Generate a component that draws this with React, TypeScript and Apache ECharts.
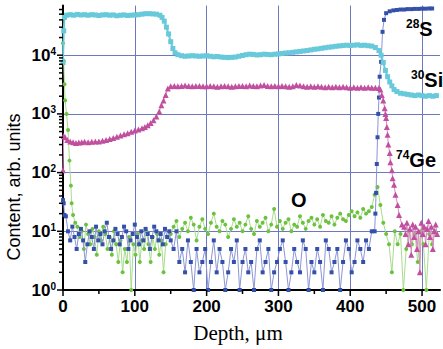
import React, { useEffect, useRef } from 'react';
import * as echarts from 'echarts';

// ---- axis ticks ----
const xTicksMajor = [0, 100, 200, 300, 400, 500];
const xTicksMinor = [50, 150, 250, 350, 450];
const yTicksMajor = [1, 10, 100, 1000, 10000];
const yTicksMinor = [
  2, 3, 4, 5, 6, 7, 8, 9,
  20, 30, 40, 50, 60, 70, 80, 90,
  200, 300, 400, 500, 600, 700, 800, 900,
  2000, 3000, 4000, 5000, 6000, 7000, 8000, 9000,
  20000, 30000, 40000, 50000, 60000,
];

// ---- 30Si (cyan) [depth, counts] ----
const si30: [number, number][] = [
  [0, 7500], [1, 26000], [2, 44000], [5, 48000], [10, 49000], [15, 48000], [20, 49500], [25, 48500],
  [30, 49000], [35, 48000], [40, 49000], [45, 48500], [50, 47500], [55, 48500], [60, 49000], [65, 48000],
  [70, 48500], [75, 47000], [80, 48000], [85, 48500], [90, 47500], [95, 48000], [100, 48500], [105, 49000],
  [110, 50000], [115, 51000], [120, 51000], [125, 50500], [130, 50000], [135, 48000], [138, 44000],
  [141, 38000], [144, 30000], [147, 23000], [150, 17000], [153, 13000], [156, 11000], [160, 10200],
  [165, 9800], [170, 9600], [175, 9700], [180, 9800], [185, 9700], [190, 9600], [195, 9700], [200, 9800],
  [205, 9600], [210, 9400], [215, 9500], [220, 9300], [225, 9200], [230, 9100], [235, 9200], [240, 9300],
  [245, 9600], [250, 9900], [255, 10200], [260, 10400], [265, 10300], [270, 10100], [275, 10200],
  [280, 10400], [285, 10300], [290, 10200], [295, 10400], [300, 10500], [305, 10700], [310, 10900],
  [315, 11000], [320, 11200], [325, 11400], [330, 11600], [335, 11800], [340, 12000], [345, 12300],
  [350, 12600], [355, 12800], [360, 13100], [365, 13400], [370, 13700], [375, 13900], [380, 14200],
  [385, 14400], [390, 14600], [395, 14800], [400, 14600], [405, 14800], [410, 15000], [415, 14700],
  [420, 14800], [425, 14500], [430, 14300], [435, 13500], [440, 12000], [443, 10000], [446, 7500],
  [449, 5500], [452, 4300], [455, 3500], [458, 3000], [461, 2600], [465, 2400], [470, 2250], [475, 2200],
  [480, 2150], [485, 2100], [490, 2050], [495, 2100], [500, 2050], [505, 2000], [510, 2050], [515, 2000],
  [520, 2050],
];

// ---- 74Ge (magenta) ----
const ge74: [number, number][] = [
  [0, 110], [1, 420], [3, 400], [6, 360], [10, 340], [14, 330], [18, 320], [22, 325], [26, 330], [30, 335],
  [35, 330], [40, 335], [45, 338], [50, 340], [55, 350], [60, 360], [65, 375], [70, 390], [75, 410],
  [80, 430], [85, 450], [90, 470], [95, 495], [100, 520], [105, 545], [110, 570], [114, 600], [118, 640],
  [122, 700], [126, 780], [130, 900], [134, 1100], [137, 1400], [140, 1700], [143, 2100], [146, 2700],
  [150, 2950], [155, 3000], [160, 2950], [165, 3000], [170, 3050], [175, 3000], [180, 2950], [185, 3000],
  [190, 3000], [195, 2950], [200, 2950], [205, 3000], [210, 2950], [215, 2900], [220, 2950], [225, 3000],
  [230, 2950], [235, 2900], [240, 2950], [245, 3000], [250, 3000], [255, 2950], [260, 3050], [265, 3000],
  [270, 2950], [275, 3050], [280, 3100], [285, 3000], [290, 2950], [295, 3000], [300, 2950], [305, 3000],
  [310, 2950], [315, 2900], [320, 2950], [325, 3100], [330, 3050], [335, 2950], [340, 2900], [345, 2950],
  [350, 2900], [355, 2950], [360, 2900], [365, 2850], [370, 2900], [375, 2850], [380, 2900], [385, 2850],
  [390, 2900], [395, 2850], [400, 2800], [405, 2850], [410, 2800], [415, 2850], [420, 2800], [425, 2850],
  [430, 2800], [435, 2800], [440, 2750], [442, 2600], [444, 2100], [446, 1700], [448, 1250], [449, 1000],
  [450, 850], [451, 600], [452, 440], [453, 300], [455, 215], [456, 150], [458, 110], [459, 80], [461, 62],
  [463, 42], [466, 28], [468, 19], [472, 13], [475, 12], [477, 9], [479, 14], [481, 6], [483, 11], [485, 4],
  [487, 13], [489, 8], [491, 12], [493, 5], [495, 10], [497, 2], [499, 14], [501, 9], [503, 12], [505, 6],
  [507, 11], [509, 15], [511, 8], [513, 12], [515, 5], [517, 10], [519, 13], [521, 9],
];

// ---- 28S (dark blue) ----
const s28Head: [number, number][] = [[0, 34], [1, 30], [2, 19], [4, 18]];
const s28NoiseA = [10, 7, 12, 8, 5, 9, 11, 7, 3, 6, 10, 8, 5, 12, 7, 9, 6, 10, 14, 8, 5, 7, 11, 9, 6, 8, 12,
  10, 5, 7, 9, 13, 8, 6, 10, 7, 11, 9, 5, 8, 12, 10, 7, 9, 6, 11, 8, 10]; // depth 7, step 3
const s28NoiseB = [7, 5, 10, 3, 5, 2, 7, 3, 1, 5, 2, 3, 5, 1, 3, 7, 2, 5, 3, 1, 2, 5, 3, 7, 1, 3, 5, 2, 3, 1,
  5, 7, 2, 3, 5, 1, 2, 3, 5, 7, 3, 1, 2, 5, 3, 2, 7, 5, 1, 3, 2, 5, 3, 1, 7, 5, 2, 3, 5, 1, 3, 7, 5, 2, 3, 7,
  5, 3, 7, 5, 10]; // depth 150, step 4
const s28Tail: [number, number][] = [
  [434, 10], [435, 20], [436, 45], [437, 140], [438, 400], [439, 1000], [440, 1900], [441, 4300],
  [443, 7700], [445, 25000], [447, 40000], [450, 52000], [455, 56000], [460, 58000], [465, 59000],
  [470, 60000], [475, 60000], [480, 61000], [485, 61000], [490, 61500], [495, 61500], [500, 62000],
  [505, 62000], [510, 62500], [514, 62500],
];

// ---- O (green) ----
const oHead: [number, number][] = [[0, 16000], [1, 8000], [2, 3200], [3, 1700], [5, 1000], [7, 530],
  [9, 160], [11, 60], [12, 30], [14, 19], [17, 14]];
const oNoiseA = [12, 8, 10, 5, 13, 9, 6, 11, 8, 4, 10, 7, 12, 9, 5, 8, 4, 10, 6, 3, 7, 2, 5, 3, 8, 1, 6, 4,
  9, 3, 7, 5, 10, 6, 3, 8, 5, 9, 4, 7, 2, 6, 8]; // depth 20, step 3
const oNoiseB = [9, 12, 15, 8, 11, 14, 10, 17, 13, 7, 12, 16, 11, 9, 14, 20, 12, 10, 15, 13, 8, 11, 16, 12,
  14, 10, 13, 18, 11, 9, 15, 12, 14, 17, 10, 13, 24, 12, 15, 11, 14, 16, 10, 13, 12, 18, 14, 11, 15, 17, 13,
  16, 12, 19, 15, 14, 18, 13, 17, 20, 16, 15, 19, 22, 18, 21, 17, 24, 20, 22, 26, 42, 57]; // depth 150, step 4
const oTail = [28, 14, 9, 6, 2, 10, 6, 9, 1, 5, 10, 6, 9, 3, 10, 6, 1, 9, 6, 10]; // depth 442, step 4

const FONT = 'Liberation Sans, Arial, sans-serif';

function onGrid(start: number, step: number, values: number[]): [number, number][] {
  return values.map((v, i) => [start + i * step, v]);
}

export default function App() {
  const ref = useRef<HTMLDivElement>(null);

  useEffect(() => {
    if (!ref.current) return;
    const chart = echarts.init(ref.current, undefined, { renderer: 'svg' });

    const s28 = [...s28Head, ...onGrid(7, 3, s28NoiseA), ...onGrid(150, 4, s28NoiseB), ...s28Tail];
    const oxy = [...oHead, ...onGrid(20, 3, oNoiseA), ...onGrid(150, 4, oNoiseB), ...onGrid(442, 4, oTail)];

    const tickData = [
      ...yTicksMajor.map((v) => [0, v, 0, 1]),
      ...yTicksMinor.map((v) => [0, v, 0, 0]),
      ...xTicksMajor.map((v) => [v, 1, 1, 1]),
      ...xTicksMinor.map((v) => [v, 1, 1, 0]),
    ];

    const gridColor = '#6c78c0';

    const option: any = {
      animation: false,
      grid: { left: 63, right: 2, top: 5.6, bottom: 59, containLabel: false },
      xAxis: {
        type: 'value',
        min: 0,
        max: 525,
        interval: 100,
        axisLine: { show: true, onZero: false, lineStyle: { color: '#000', width: 2 } },
        axisTick: { show: false },
        axisLabel: {
          formatter: (v: number) => (v % 100 === 0 && v <= 500 ? String(v) : ''),
          fontSize: 17,
          fontWeight: 'bold',
          fontFamily: FONT,
          color: '#000',
          margin: 8,
        },
        splitLine: { show: true, showMinLine: false, showMaxLine: false, lineStyle: { color: gridColor, width: 1 } },
      },
      yAxis: {
        type: 'log',
        logBase: 10,
        min: 1,
        max: 70000,
        axisLine: { show: true, onZero: false, lineStyle: { color: '#000', width: 2 } },
        axisTick: { show: false },
        axisLabel: {
          margin: 7,
          formatter: (v: number) => {
            const e = Math.round(Math.log10(v));
            return Math.abs(Math.pow(10, e) - v) < 1e-6 * v ? `{b|10}{s|${e}}` : '';
          },
          rich: {
            b: { fontSize: 17, fontWeight: 'bold', fontFamily: FONT, color: '#000', lineHeight: 18 },
            s: { fontSize: 10, fontWeight: 'bold', fontFamily: FONT, color: '#000', lineHeight: 8, verticalAlign: 'top' },
          },
        },
        splitLine: { show: true, showMinLine: false, showMaxLine: false, lineStyle: { color: gridColor, width: 1 } },
      },
      series: [
        {
          name: 'O',
          type: 'line',
          data: oxy,
          symbol: 'circle',
          symbolSize: 4,
          itemStyle: { color: '#6cc23e' },
          lineStyle: { color: '#a9dc8e', width: 1 },
          clip: false,
          z: 2,
        },
        {
          name: '28S',
          type: 'line',
          data: s28,
          symbol: 'rect',
          symbolSize: 4,
          itemStyle: { color: '#3550a8' },
          lineStyle: { color: '#8c96d6', width: 1 },
          clip: false,
          z: 3,
        },
        {
          name: '74Ge',
          type: 'line',
          data: ge74,
          symbol: 'triangle',
          symbolSize: 6,
          itemStyle: { color: '#c04f9f' },
          lineStyle: { color: '#d88cc0', width: 1 },
          clip: false,
          z: 4,
        },
        {
          name: '30Si',
          type: 'line',
          data: si30,
          symbol: 'rect',
          symbolSize: 5,
          itemStyle: { color: '#67c9da' },
          lineStyle: { color: '#67c9da', width: 2 },
          clip: false,
          z: 5,
        },
        {
          name: 'ticks',
          type: 'custom',
          silent: true,
          z: 10,
          data: tickData,
          renderItem: (_params: any, api: any) => {
            const p = api.coord([api.value(0), api.value(1)]);
            const isY = api.value(2) === 0;
            const len = api.value(3) ? 6 : 4;
            const shape = isY
              ? { x1: p[0] - len, y1: p[1], x2: p[0], y2: p[1] }
              : { x1: p[0], y1: p[1], x2: p[0], y2: p[1] + len };
            return { type: 'line', shape, style: { stroke: '#000', lineWidth: 1.5 } };
          },
        },
      ],
      graphic: [
        {
          type: 'text',
          x: 14,
          y: 187,
          rotation: Math.PI / 2,
          style: { text: 'Content, arb. units', fontSize: 18, fontFamily: FONT, fill: '#000', align: 'center', verticalAlign: 'middle' },
        },
        {
          type: 'text',
          x: 238,
          y: 333,
          style: { text: 'Depth, μm', fontSize: 21, fontFamily: 'Liberation Serif, Times New Roman, serif', fill: '#000', align: 'center', verticalAlign: 'middle' },
        },
        ...[
          { sup: '28', main: 'S', x: 406, y: 29 },
          { sup: '30', main: 'Si', x: 411, y: 80 },
          { sup: '74', main: 'Ge', x: 396, y: 160 },
          { sup: '', main: 'O', x: 291, y: 200 },
        ].map((t) => ({
          type: 'text',
          x: t.x,
          y: t.y,
          z: 20,
          style: {
            text: t.sup ? `{s|${t.sup}}{b|${t.main}}` : `{b|${t.main}}`,
            align: 'left',
            verticalAlign: 'middle',
            rich: {
              b: { fontSize: 20, fontWeight: 'bold', fontFamily: FONT, fill: '#000', lineHeight: 22 },
              s: { fontSize: 12, fontWeight: 'bold', fontFamily: FONT, fill: '#000', lineHeight: 8, verticalAlign: 'top' },
            },
          },
        })),
      ],
    };

    chart.setOption(option);
    return () => chart.dispose();
  }, []);

  return <div ref={ref} style={{ position: 'absolute', left: 0, top: 0, width: 443, height: 349 }} />;
}
